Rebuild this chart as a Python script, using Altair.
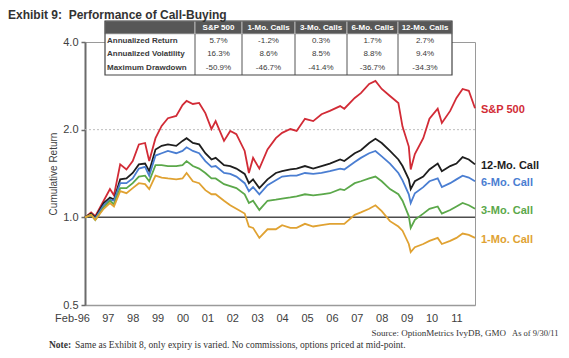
import altair as alt
import pandas as pd

# ---------------- data ----------------
dates = ["1996-02-01", "1996-05-01", "1996-07-01", "1996-11-01",
         "1997-02-01", "1997-04-01", "1997-07-01", "1997-10-01",
         "1998-01-01", "1998-04-01", "1998-07-01", "1998-08-31", "1998-12-01",
         "1999-03-01", "1999-06-01", "1999-10-01",
         "2000-01-01", "2000-03-01", "2000-06-01", "2000-09-01", "2000-12-01",
         "2001-03-01", "2001-05-01", "2001-09-01", "2001-12-01",
         "2002-03-01", "2002-07-01", "2002-09-01", "2002-11-01",
         "2003-02-01", "2003-06-01", "2003-10-01",
         "2004-01-01", "2004-05-01", "2004-08-01", "2004-12-01",
         "2005-04-01", "2005-08-01", "2005-12-01",
         "2006-05-01", "2006-07-01", "2006-12-01",
         "2007-03-01", "2007-07-01", "2007-10-01",
         "2008-01-01", "2008-05-01", "2008-09-01", "2008-11-01",
         "2009-02-01", "2009-03-01", "2009-05-01", "2009-09-01", "2009-12-01",
         "2010-04-01", "2010-06-01", "2010-10-01",
         "2011-01-01", "2011-04-01", "2011-07-01", "2011-09-30"]

series_names = ["S&P 500", "12-Mo. Call", "6-Mo. Call", "3-Mo. Call", "1-Mo. Call"]

sp500 = [1.00, 1.04, 1.01, 1.14,
         1.25, 1.19, 1.52, 1.46,
         1.56, 1.78, 1.80, 1.56, 1.87,
         2.06, 2.19, 2.23,
         2.43, 2.51, 2.45, 2.47, 2.28,
         2.01, 2.14, 1.83, 1.98,
         1.93, 1.69, 1.42, 1.60,
         1.47, 1.71, 1.87,
         1.95, 2.01, 1.98, 2.18,
         2.14, 2.26, 2.32,
         2.41, 2.36, 2.57,
         2.67, 2.87, 2.94,
         2.76, 2.61, 2.47, 2.05,
         1.75, 1.46, 1.65, 1.87, 2.18,
         2.36, 2.11, 2.32,
         2.57, 2.76, 2.72, 2.37]

call_12m = [1.00, 1.03, 1.00, 1.12,
            1.17, 1.15, 1.35, 1.36,
            1.42, 1.52, 1.53, 1.44, 1.71,
            1.76, 1.78, 1.76,
            1.83, 1.87, 1.80, 1.78, 1.66,
            1.58, 1.60, 1.51, 1.50,
            1.47, 1.41, 1.31, 1.35,
            1.26, 1.35, 1.42,
            1.44, 1.46, 1.47, 1.50,
            1.47, 1.50, 1.53,
            1.58, 1.56, 1.66,
            1.70, 1.80, 1.86,
            1.80, 1.69, 1.58, 1.50,
            1.35, 1.25, 1.33, 1.38, 1.46,
            1.53, 1.44, 1.50,
            1.53, 1.61, 1.58, 1.52]

call_6m = [1.00, 1.02, 0.99, 1.10,
           1.15, 1.14, 1.31, 1.31,
           1.36, 1.47, 1.49, 1.39, 1.63,
           1.66, 1.69, 1.66,
           1.69, 1.74, 1.69, 1.66, 1.56,
           1.49, 1.50, 1.42, 1.41,
           1.38, 1.31, 1.23, 1.27,
           1.20, 1.29, 1.34,
           1.38, 1.39, 1.39, 1.42,
           1.41, 1.42, 1.44,
           1.47, 1.46, 1.55,
           1.60, 1.66, 1.69,
           1.62, 1.53, 1.42, 1.34,
           1.20, 1.12, 1.21, 1.27, 1.33,
           1.36, 1.27, 1.31,
           1.35, 1.39, 1.37, 1.33]

call_3m = [1.00, 1.02, 0.98, 1.08,
           1.14, 1.11, 1.26, 1.26,
           1.31, 1.38, 1.39, 1.33, 1.51,
           1.51, 1.50, 1.50,
           1.51, 1.56, 1.50, 1.47, 1.42,
           1.36, 1.36, 1.30, 1.28,
           1.26, 1.20, 1.12, 1.14,
           1.06, 1.14, 1.15,
           1.16, 1.17, 1.18, 1.20,
           1.19, 1.20, 1.21,
           1.25, 1.24, 1.31,
           1.33, 1.36, 1.38,
           1.33, 1.25, 1.20, 1.14,
           1.01, 0.92, 0.98, 1.03, 1.07,
           1.09, 1.03, 1.06,
           1.09, 1.12, 1.10, 1.07]

call_1m = [1.00, 1.02, 0.98, 1.07,
           1.12, 1.09, 1.23, 1.21,
           1.26, 1.31, 1.30, 1.25, 1.39,
           1.37, 1.36, 1.35,
           1.36, 1.42, 1.33, 1.31, 1.24,
           1.20, 1.20, 1.14, 1.10,
           1.07, 1.03, 0.93, 0.92,
           0.85, 0.91, 0.91,
           0.94, 0.92, 0.92, 0.95,
           0.93, 0.94, 0.95,
           0.95, 0.95, 1.02,
           1.04, 1.07, 1.10,
           1.05, 0.97, 0.93, 0.90,
           0.81, 0.76, 0.79, 0.81, 0.83,
           0.85, 0.81, 0.83,
           0.85, 0.88, 0.87, 0.85]

series_colors = ["#d22b36", "#1e1e1e", "#4a7ed2", "#5ba84a", "#e0a232"]

y_ticks = [0.5, 1.0, 2.0, 4.0]
x_tick_years = list(range(1997, 2012))

table_headers = ["S&P 500", "1-Mo. Calls", "3-Mo. Calls", "6-Mo. Calls", "12-Mo. Calls"]
table_rows = ["Annualized Return", "Annualized Volatility", "Maximum Drawdown"]
ann_return = ["5.7%", "-1.2%", "0.3%", "1.7%", "2.7%"]
ann_volatility = ["16.3%", "8.6%", "8.5%", "8.8%", "9.4%"]
max_drawdown = ["-50.9%", "-46.7%", "-41.4%", "-36.7%", "-34.3%"]

title_text = "Exhibit 9:\u00a0 Performance of Call-Buying"
source_text = "Source: OptionMetrics IvyDB, GMO"
asof_text = "As of 9/30/11"
note_label = "Note:"
note_text = "Same as Exhibit 8, only expiry is varied. No commissions, options priced at mid-point."

# ---------------- layout (pixels, relative to plot area) ----------------
W, H = 390, 263
PAD = {"left": 77, "top": 34, "right": 86, "bottom": 45}
col_edges = [20, 110, 157, 210, 262, 313, 367]
row_edges = [-21, -8, 5.5, 19, 33]

SANS = "Liberation Sans"
NARROW = "'Liberation Sans Narrow', 'Arial Narrow', 'Liberation Sans', sans-serif"
SERIF = "Liberation Serif"

# ---------------- build tables ----------------
recs = []
for name, vals in zip(series_names, [sp500, call_12m, call_6m, call_3m, call_1m]):
    for d, v in zip(dates, vals):
        recs.append({"date": d, "series": name, "value": v})
df = pd.DataFrame(recs)
last_df = df[df["date"] == dates[-1]]

x_axis_values = [alt.DateTime(year=1996, month=2, date=1)] + \
    [alt.DateTime(year=yy, month=1, date=1) for yy in x_tick_years]

x_enc = alt.X(
    "date:T", title=None,
    scale=alt.Scale(domain=[alt.DateTime(year=1996, month=2, date=1),
                            alt.DateTime(year=2011, month=9, date=30)], nice=False),
    axis=alt.Axis(values=x_axis_values,
                  labelExpr="year(datum.value) == 1996 ? 'Feb-96' : timeFormat(datum.value, '%y')",
                  labelOffset={"condition": {"test": "year(datum.value) == 1996", "value": -13}, "value": 0},
                  grid=False, ticks=False, domainColor="#9a9a9a", domainWidth=1.5,
                  labelFont=SANS, labelFontSize=11, labelColor="#404040", labelPadding=7,
                  labelFlush=False, labelOverlap=False))

y_enc = alt.Y(
    "value:Q",
    scale=alt.Scale(type="log", domain=[0.5, 4], nice=False),
    axis=alt.Axis(values=y_ticks, format=".1f", title="Cumulative Return", grid=False,
                  domainColor="#6b6b6b", domainWidth=2, tickColor="#6b6b6b", tickSize=4,
                  tickWidth=1.5, labelFont=SANS, labelFontSize=11, labelColor="#404040",
                  labelPadding=3, labelFlush=False, titleFont=SANS, titleFontSize=10,
                  titleFontWeight="normal", titleColor="#404040", titlePadding=4))

color_enc = alt.Color("series:N", scale=alt.Scale(domain=series_names, range=series_colors), legend=None)

ref_dotted = alt.Chart(pd.DataFrame({"value": [2.0]})).mark_rule(
    color="#bdbdbd", strokeWidth=1, strokeDash=[2, 2]).encode(y=y_enc)
ref_one = alt.Chart(pd.DataFrame({"value": [1.0]})).mark_rule(
    color="#4d4d4d", strokeWidth=1.5).encode(y=y_enc)

lines = alt.Chart(df).mark_line(strokeWidth=1.8).encode(x=x_enc, y=y_enc, color=color_enc)

end_labels = alt.Chart(last_df).mark_text(
    align="left", baseline="middle", dx=6, dy=2, font=SANS, fontSize=11, fontWeight="bold"
).encode(x=x_enc, y=y_enc, text="series:N", color=color_enc)

main = alt.layer(ref_dotted, ref_one, lines, end_labels)

# ---------------- annotation layer (pixel positioned) ----------------
def px(field):
    return alt.X(field, scale=None, axis=None)

def py(field):
    return alt.Y(field, scale=None, axis=None)

body_df = pd.DataFrame({"x0": [col_edges[0]], "x1": [col_edges[-1]],
                        "y0": [row_edges[1]], "y1": [row_edges[-1]]})
body = alt.Chart(body_df).mark_rect(fill="white").encode(
    x=px("x0:Q"), x2="x1:Q", y=py("y0:Q"), y2="y1:Q")

head_df = pd.DataFrame({"x0": col_edges[:-1], "x1": col_edges[1:],
                        "y0": [row_edges[0]] * 6, "y1": [row_edges[1]] * 6})
header = alt.Chart(head_df).mark_rect(fill="#575757", stroke="#c8c8c8", strokeWidth=0.8).encode(
    x=px("x0:Q"), x2="x1:Q", y=py("y0:Q"), y2="y1:Q")

sep_df = pd.DataFrame({"x": col_edges[1:-1], "y0": [row_edges[1]] * 5, "y1": [row_edges[-1]] * 5})
seps = alt.Chart(sep_df).mark_rule(color="#555555", strokeWidth=1).encode(
    x=px("x:Q"), y=py("y0:Q"), y2="y1:Q")

border_df = pd.DataFrame({"x0": [col_edges[0]], "x1": [col_edges[-1]],
                          "y0": [row_edges[0]], "y1": [row_edges[-1]]})
border = alt.Chart(border_df).mark_rect(fillOpacity=0, stroke="#444444", strokeWidth=1.2).encode(
    x=px("x0:Q"), x2="x1:Q", y=py("y0:Q"), y2="y1:Q")

col_centers = [(col_edges[i] + col_edges[i + 1]) / 2 for i in range(1, 6)]
row_centers = [(row_edges[i] + row_edges[i + 1]) / 2 for i in range(1, 4)]
head_y = (row_edges[0] + row_edges[1]) / 2

head_txt_df = pd.DataFrame({"x": col_centers, "y": [head_y] * 5, "text": table_headers})
head_txt = alt.Chart(head_txt_df).mark_text(
    font=NARROW, fontSize=8, fontWeight="bold", color="white", baseline="middle", align="center"
).encode(x=px("x:Q"), y=py("y:Q"), text="text:N")

row_lbl_df = pd.DataFrame({"x": [col_edges[0] + 2] * 3, "y": row_centers, "text": table_rows})
row_lbl = alt.Chart(row_lbl_df).mark_text(
    font=NARROW, fontSize=8, fontWeight="bold", color="#3a3a3a", baseline="middle", align="left"
).encode(x=px("x:Q"), y=py("y:Q"), text="text:N")

cell_recs = []
for r, vals in zip(row_centers, [ann_return, ann_volatility, max_drawdown]):
    for cx, v in zip(col_centers, vals):
        cell_recs.append({"x": cx, "y": r, "text": v})
cells = alt.Chart(pd.DataFrame(cell_recs)).mark_text(
    font=NARROW, fontSize=8, color="#3a3a3a", baseline="middle", align="center"
).encode(x=px("x:Q"), y=py("y:Q"), text="text:N")

title = alt.Chart(pd.DataFrame({"x": [-77], "y": [-23], "text": [title_text]})).mark_text(
    font=SANS, fontSize=12, fontWeight="bold", color="#333333", align="left", baseline="alphabetic"
).encode(x=px("x:Q"), y=py("y:Q"), text="text:N")

source = alt.Chart(pd.DataFrame({"x": [421], "y": [294], "text": [source_text]})).mark_text(
    font=SERIF, fontSize=9, color="#333333", align="right", baseline="alphabetic"
).encode(x=px("x:Q"), y=py("y:Q"), text="text:N")

asof = alt.Chart(pd.DataFrame({"x": [427], "y": [294], "text": [asof_text]})).mark_text(
    font=SERIF, fontSize=8.5, color="#333333", align="left", baseline="alphabetic"
).encode(x=px("x:Q"), y=py("y:Q"), text="text:N")

note_b = alt.Chart(pd.DataFrame({"x": [-36], "y": [306], "text": [note_label]})).mark_text(
    font=SERIF, fontSize=9.5, fontWeight="bold", color="#333333", align="left", baseline="alphabetic"
).encode(x=px("x:Q"), y=py("y:Q"), text="text:N")

note_t = alt.Chart(pd.DataFrame({"x": [-10], "y": [306], "text": [note_text]})).mark_text(
    font=SERIF, fontSize=9.5, color="#333333", align="left", baseline="alphabetic"
).encode(x=px("x:Q"), y=py("y:Q"), text="text:N")

annot = alt.layer(body, header, seps, border, head_txt, row_lbl, cells, title, source, asof, note_b, note_t)

chart = alt.layer(main, annot).resolve_scale(x="independent", y="independent").properties(
    width=W, height=H,
    autosize=alt.AutoSizeParams(type="none"),
    padding=PAD,
).configure_view(stroke="#9a9a9a", strokeWidth=1)

chart.save("out.html", embed_options={"renderer": "svg", "actions": False})
